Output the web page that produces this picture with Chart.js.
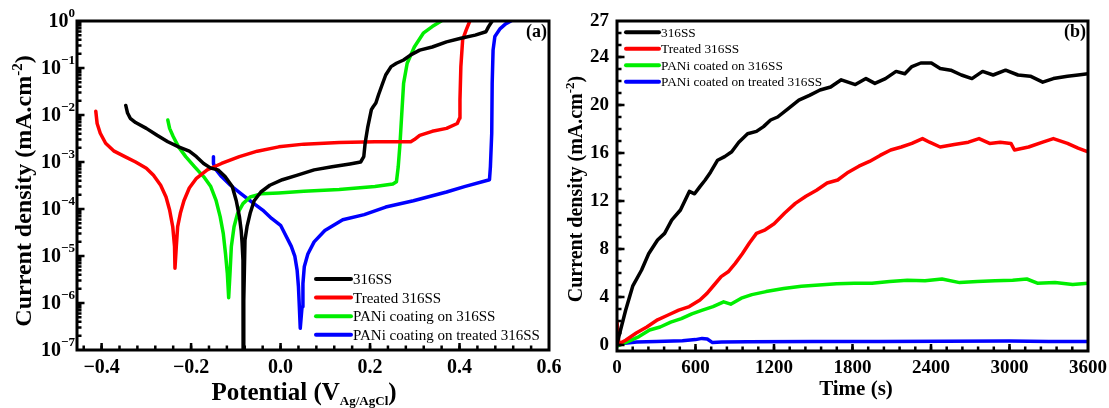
<!DOCTYPE html>
<html>
<head>
<meta charset="utf-8">
<script src="https://cdn.jsdelivr.net/npm/chart.js@4.4.0/dist/chart.umd.min.js"></script>
<style>
  html, body { margin: 0; padding: 0; background: #fff; overflow: hidden; }
  #wrap { position: relative; width: 1109px; height: 408px; }
  canvas { position: absolute; top: 0; }
  #chart-tafel { left: 0; }
  #chart-ca { left: 556px; }
</style>
</head>
<body>
<div id="wrap">
  <canvas id="chart-tafel" width="580" height="408"></canvas>
  <canvas id="chart-ca" width="560" height="408"></canvas>
</div>
<script>
// ---- (a) potentiodynamic polarisation: potential (V) vs current density (mA/cm2) ----
const e316 = [-0.346, -0.342, -0.336, -0.324, -0.300, -0.276, -0.252, -0.228, -0.204, -0.188, -0.172, -0.156, -0.140, -0.124, -0.108, -0.099, -0.092, -0.088, -0.086, -0.084, -0.0835, -0.0825, -0.082, -0.0795, -0.075, -0.068, -0.059, -0.044, -0.024, 0.004, 0.036, 0.075, 0.115, 0.155, 0.179, 0.186, 0.189, 0.195, 0.203, 0.207, 0.213, 0.219, 0.227, 0.235, 0.247, 0.259, 0.275, 0.291, 0.311, 0.339, 0.371, 0.403, 0.435, 0.459, 0.465, 0.473];
const i316 = [1.6e-2, 1.1e-2, 8.5e-3, 6.9e-3, 5.2e-3, 3.7e-3, 2.7e-3, 2.1e-3, 1.7e-3, 1.3e-3, 9.3e-4, 7.4e-4, 6.8e-4, 4.9e-4, 3.0e-4, 1.5e-4, 6.9e-5, 3.5e-5, 1.9e-5, 8.1e-6, 1e-8, 1e-8, 1.1e-6, 2.2e-5, 4.2e-5, 8.1e-5, 1.5e-4, 2.3e-4, 3.2e-4, 4.2e-4, 5.2e-4, 6.8e-4, 7.9e-4, 9.1e-4, 1.0e-3, 1.3e-3, 2.5e-3, 5.6e-3, 1.3e-2, 1.5e-2, 1.8e-2, 2.7e-2, 4.4e-2, 7.1e-2, 0.107, 0.126, 0.148, 0.19, 0.24, 0.28, 0.36, 0.43, 0.50, 0.59, 0.76, 1.0];

const eTreated = [-0.413, -0.410, -0.403, -0.391, -0.372, -0.348, -0.324, -0.300, -0.284, -0.268, -0.256, -0.248, -0.241, -0.237, -0.236, -0.233, -0.230, -0.224, -0.216, -0.204, -0.188, -0.164, -0.132, -0.092, -0.052, -0.004, 0.052, 0.131, 0.211, 0.291, 0.299, 0.311, 0.339, 0.371, 0.395, 0.400, 0.401, 0.403, 0.407, 0.415, 0.423];
const iTreated = [1.2e-2, 6.6e-3, 4.1e-3, 2.5e-3, 1.7e-3, 1.3e-3, 1.0e-3, 7.4e-4, 5.2e-4, 3.2e-4, 1.8e-4, 9.5e-5, 4.2e-5, 1.6e-5, 5.5e-6, 1.6e-5, 4.2e-5, 8.1e-5, 1.5e-4, 2.8e-4, 4.5e-4, 6.8e-4, 9.3e-4, 1.3e-3, 1.7e-3, 2.1e-3, 2.4e-3, 2.6e-3, 2.7e-3, 2.7e-3, 3.0e-3, 3.7e-3, 4.5e-3, 5.2e-3, 6.6e-3, 8.5e-3, 2.1e-2, 0.107, 0.40, 0.65, 1.0];

const ePani = [-0.252, -0.248, -0.240, -0.228, -0.212, -0.192, -0.172, -0.156, -0.144, -0.135, -0.128, -0.123, -0.119, -0.116, -0.113, -0.110, -0.104, -0.096, -0.084, -0.068, -0.044, -0.004, 0.052, 0.131, 0.211, 0.251, 0.259, 0.263, 0.267, 0.271, 0.275, 0.283, 0.299, 0.319, 0.339, 0.359];
const iPani = [7.8e-3, 5.2e-3, 3.5e-3, 2.1e-3, 1.3e-3, 7.9e-4, 4.9e-4, 3.0e-4, 1.5e-4, 6.9e-5, 3.0e-5, 1.1e-5, 4.3e-6, 1.3e-6, 4.3e-6, 1.6e-5, 4.2e-5, 8.1e-5, 1.3e-4, 1.8e-4, 2.1e-4, 2.2e-4, 2.4e-4, 2.6e-4, 3.0e-4, 3.4e-4, 3.8e-4, 7.9e-4, 2.5e-3, 1.1e-2, 4.7e-2, 0.126, 0.28, 0.55, 0.76, 1.0];

const ePaniTr = [-0.150, -0.150, -0.144, -0.132, -0.112, -0.088, -0.064, -0.040, -0.020, 0.000, 0.024, 0.032, 0.037, 0.040, 0.042, 0.044, 0.048, 0.050, 0.053, 0.061, 0.075, 0.099, 0.139, 0.187, 0.235, 0.297, 0.371, 0.411, 0.467, 0.469, 0.472, 0.473, 0.475, 0.479, 0.491, 0.503, 0.515];
const iPaniTr = [1.3e-3, 9.3e-4, 6.8e-4, 4.9e-4, 3.2e-4, 2.1e-4, 1.4e-4, 9.5e-5, 6.3e-5, 4.5e-5, 1.6e-5, 9.8e-6, 5.0e-6, 2.2e-6, 8.3e-7, 2.9e-7, 8.3e-7, 2.6e-6, 5.9e-6, 1.1e-5, 2.0e-5, 3.5e-5, 5.9e-5, 7.6e-5, 1.1e-4, 1.5e-4, 2.3e-4, 3.0e-4, 4.2e-4, 7.9e-4, 4.1e-3, 4.7e-2, 0.24, 0.47, 0.69, 0.87, 1.0];

const tafelLabels = ['316SS', 'Treated 316SS', 'PANi coating on 316SS', 'PANi coating on treated 316SS'];
const potentialTicks = [-0.4, -0.2, 0.0, 0.2, 0.4, 0.6];
const decadeTicks = [0, -1, -2, -3, -4, -5, -6, -7];

// ---- (b) chronoamperometry: time (s) vs current density (mA/cm2) ----
const t316 = [0, 66, 120, 188, 242, 310, 364, 418, 485, 553, 593, 634, 674, 715, 769, 823, 877, 931, 998, 1066, 1120, 1174, 1228, 1309, 1390, 1471, 1552, 1633, 1714, 1822, 1903, 1971, 2052, 2133, 2200, 2254, 2322, 2403, 2470, 2551, 2632, 2713, 2794, 2875, 2970, 3065, 3159, 3254, 3335, 3443, 3524, 3600];
const j316 = [0.1, 2.9, 4.9, 6.25, 7.6, 8.75, 9.3, 10.4, 11.25, 12.8, 12.6, 13.2, 13.75, 14.4, 15.4, 15.7, 16.1, 16.9, 17.6, 17.8, 18.2, 18.75, 19.0, 19.7, 20.4, 20.8, 21.25, 21.5, 22.1, 21.7, 22.2, 21.8, 22.2, 22.8, 22.6, 23.2, 23.5, 23.5, 23.05, 22.9, 22.5, 22.2, 22.8, 22.5, 22.9, 22.5, 22.4, 21.9, 22.2, 22.4, 22.5, 22.6];

const tTreated = [0, 15, 66, 147, 228, 310, 391, 472, 553, 634, 688, 742, 796, 850, 904, 958, 1012, 1066, 1133, 1201, 1282, 1363, 1444, 1525, 1606, 1687, 1768, 1849, 1930, 2011, 2092, 2173, 2254, 2335, 2389, 2470, 2578, 2686, 2767, 2848, 2929, 3011, 3038, 3146, 3254, 3335, 3443, 3524, 3600];
const jTreated = [1.9, 0.1, 0.4, 1.0, 1.5, 2.1, 2.5, 2.9, 3.2, 3.75, 4.3, 5.0, 5.7, 6.1, 6.8, 7.6, 8.5, 9.3, 9.6, 10.1, 11.0, 11.8, 12.4, 12.9, 13.5, 13.75, 14.4, 14.9, 15.3, 15.8, 16.25, 16.5, 16.8, 17.2, 16.9, 16.5, 16.7, 16.9, 17.2, 16.8, 16.9, 16.8, 16.25, 16.5, 16.9, 17.2, 16.8, 16.4, 16.1];

const tPani = [0, 87, 168, 249, 330, 411, 492, 572, 653, 734, 815, 869, 950, 1031, 1139, 1274, 1409, 1544, 1679, 1814, 1949, 2084, 2219, 2354, 2484, 2619, 2754, 2889, 3024, 3132, 3213, 3348, 3483, 3600];
const jPani = [-0.1, 0.3, 0.7, 1.25, 1.5, 1.9, 2.2, 2.6, 2.9, 3.2, 3.6, 3.4, 3.9, 4.2, 4.45, 4.7, 4.9, 5.0, 5.1, 5.15, 5.15, 5.3, 5.4, 5.35, 5.5, 5.2, 5.3, 5.35, 5.4, 5.5, 5.15, 5.2, 5.05, 5.15];

const tPaniTr = [0, 60, 150, 300, 500, 600, 650, 690, 730, 800, 1000, 1500, 2000, 2500, 3000, 3300, 3600];
const jPaniTr = [0.05, 0.15, 0.25, 0.3, 0.35, 0.45, 0.55, 0.5, 0.2, 0.25, 0.28, 0.3, 0.3, 0.32, 0.33, 0.3, 0.3];

const caLabels = ['316SS', 'Treated 316SS', 'PANi coated on 316SS', 'PANi coated on treated 316SS'];
const timeTicks = [0, 600, 1200, 1800, 2400, 3000, 3600];
const currentTicks = [0, 4, 8, 12, 16, 20, 24, 27];

const lineColors = ['#000000', '#ff0000', '#00ee00', '#0000ff'];
const serif = '"Liberation Serif", "Times New Roman", serif';

Chart.defaults.font.family = serif;
Chart.defaults.color = '#000';

function toPoints(xs, ys) {
    return xs.map((x, i) => ({ x: x, y: ys[i] }));
}

function makeDatasets(pairs, labels) {
    return pairs.map((p, i) => ({
        label: labels[i],
        data: toPoints(p[0], p[1]),
        borderColor: lineColors[i],
        backgroundColor: lineColors[i],
        borderWidth: 3.5,
        pointRadius: 0,
        tension: 0,
        borderJoinStyle: 'round',
        borderCapStyle: 'round',
    }));
}

function range(from, to, step) {
    const out = [];
    for (let v = from; v <= to + step / 1000; v += step) out.push(Math.round(v * 1e6) / 1e6);
    return out;
}

// text made of runs with their own font and baseline shift (sub/superscripts)
function richWidth(ctx, parts) {
    let w = 0;
    parts.forEach(p => { ctx.font = p.font; w += ctx.measureText(p.text).width; });
    return w;
}
function drawRich(ctx, parts, cx, baseY) {
    let x = cx - richWidth(ctx, parts) / 2;
    ctx.textAlign = 'left';
    ctx.textBaseline = 'alphabetic';
    parts.forEach(p => {
        ctx.font = p.font;
        ctx.fillText(p.text, x, baseY + (p.dy || 0));
        x += ctx.measureText(p.text).width;
    });
}

// frame, inward ticks, legend, panel tag and axis titles
function decorPlugin(cfg) {
    return {
        id: 'decor',
        afterDraw(chart) {
            const { ctx, chartArea: a } = chart;
            const xs = chart.scales.x, ys = chart.scales.y;
            ctx.save();
            ctx.strokeStyle = '#000';
            ctx.fillStyle = '#000';

            const marks = (vals, len, onX) => {
                ctx.beginPath();
                vals.forEach(v => {
                    if (onX) {
                        const p = xs.getPixelForValue(v);
                        if (p < a.left + 1 || p > a.right - 1) return;
                        ctx.moveTo(p, a.bottom); ctx.lineTo(p, a.bottom - len);
                    } else {
                        const p = ys.getPixelForValue(v);
                        if (p < a.top + 1 || p > a.bottom - 1) return;
                        ctx.moveTo(a.left, p); ctx.lineTo(a.left + len, p);
                    }
                });
                ctx.stroke();
            };
            ctx.lineWidth = 2.5;
            marks(cfg.xMinor, 4.5, true);
            marks(cfg.xMajor, 7, true);
            marks(cfg.yMinor, 4.5, false);
            marks(cfg.yMajor, 7.5, false);

            ctx.lineWidth = 3;
            ctx.strokeRect(a.left, a.top, a.right - a.left, a.bottom - a.top);

            // powers of ten on the log axis
            if (cfg.powers) {
                cfg.powers.forEach(e => {
                    const p = ys.getPixelForValue(Math.pow(10, e));
                    const sup = e === 0 ? '0' : '\u2212' + (-e);
                    ctx.textAlign = 'right';
                    ctx.textBaseline = 'middle';
                    ctx.font = 'bold 13px ' + serif;
                    const sw = ctx.measureText(sup).width;
                    ctx.fillText(sup, a.left - 2, p - 7);
                    ctx.font = 'bold 20px ' + serif;
                    ctx.fillText('10', a.left - 2 - sw, p + 1);
                });
            }

            // legend
            const lg = cfg.legend;
            chart.data.datasets.forEach((ds, i) => {
                const y = lg.y0 + i * lg.dy;
                ctx.strokeStyle = ds.borderColor;
                ctx.lineWidth = 4;
                ctx.lineCap = 'round';
                ctx.beginPath();
                ctx.moveTo(lg.x0, y); ctx.lineTo(lg.x1, y);
                ctx.stroke();
                ctx.font = lg.font;
                ctx.textAlign = 'left';
                ctx.textBaseline = 'middle';
                ctx.fillText(ds.label, lg.tx, y + 1);
            });

            // panel tag
            ctx.font = 'bold 18px ' + serif;
            ctx.textAlign = 'right';
            ctx.textBaseline = 'middle';
            ctx.fillText(cfg.tag, a.right - 2, a.top + 11);

            drawRich(ctx, cfg.xTitle.parts, cfg.xTitle.x, cfg.xTitle.y);

            ctx.translate(cfg.yTitle.x, cfg.yTitle.y);
            ctx.rotate(-Math.PI / 2);
            drawRich(ctx, cfg.yTitle.parts, 0, 0);
            ctx.restore();
        },
    };
}

const tickFont = size => ({ family: serif, size: size, weight: 'bold' });

// Tafel plot
const logMinor = [];
decadeTicks.slice(0, -1).forEach(e => {
    for (let m = 2; m <= 9; m++) logMinor.push(m * Math.pow(10, e - 1));
});

new Chart(document.getElementById('chart-tafel'), {
    type: 'line',
    data: {
        datasets: makeDatasets([[e316, i316], [eTreated, iTreated], [ePani, iPani], [ePaniTr, iPaniTr]], tafelLabels),
    },
    options: {
        responsive: false,
        animation: false,
        events: [],
        layout: { padding: { top: 21, right: 31, left: 0, bottom: 0 } },
        plugins: { legend: { display: false }, tooltip: { enabled: false } },
        scales: {
            x: {
                type: 'linear',
                min: -0.455,
                max: 0.6,
                grid: { display: false, drawTicks: false },
                border: { display: false },
                afterBuildTicks: s => { s.ticks = potentialTicks.map(v => ({ value: v })); },
                afterFit: s => { s.height = 58; },
                ticks: {
                    autoSkip: false,
                    maxRotation: 0,
                    padding: 6,
                    font: tickFont(20),
                    callback: v => (v < 0 ? '\u2212' : '') + Math.abs(v).toFixed(1),
                },
            },
            y: {
                type: 'logarithmic',
                min: 1e-7,
                max: 1,
                grid: { display: false, drawTicks: false },
                border: { display: false },
                ticks: { display: false },
                afterFit: s => { s.width = 77; },
            },
        },
    },
    plugins: [decorPlugin({
        xMajor: potentialTicks,
        xMinor: range(-0.44, 0.6, 0.04),
        yMajor: decadeTicks.map(e => Math.pow(10, e)),
        yMinor: logMinor,
        powers: decadeTicks,
        legend: { x0: 316, x1: 351, tx: 353, y0: 279, dy: 18.6, font: '15px ' + serif },
        tag: '(a)',
        xTitle: {
            x: 304, y: 400,
            parts: [
                { text: 'Potential (V', font: 'bold 25px ' + serif },
                { text: 'Ag/AgCl', font: 'bold 13px ' + serif, dy: 5 },
                { text: ')', font: 'bold 25px ' + serif },
            ],
        },
        yTitle: {
            x: 31, y: 191,
            parts: [
                { text: 'Current density (mA.cm', font: 'bold 24px ' + serif },
                { text: '-2', font: 'bold 15px ' + serif, dy: -9 },
                { text: ')', font: 'bold 24px ' + serif },
            ],
        },
    })],
});

// current transients
new Chart(document.getElementById('chart-ca'), {
    type: 'line',
    data: {
        datasets: makeDatasets([[t316, j316], [tTreated, jTreated], [tPani, jPani], [tPaniTr, jPaniTr]], caLabels),
    },
    options: {
        responsive: false,
        animation: false,
        events: [],
        layout: { padding: { top: 21, right: 28, left: 0, bottom: 0 } },
        plugins: { legend: { display: false }, tooltip: { enabled: false } },
        scales: {
            x: {
                type: 'linear',
                min: 0,
                max: 3600,
                grid: { display: false, drawTicks: false },
                border: { display: false },
                afterBuildTicks: s => { s.ticks = timeTicks.map(v => ({ value: v })); },
                afterFit: s => { s.height = 57; },
                ticks: { autoSkip: false, maxRotation: 0, padding: 6, font: tickFont(19), callback: v => String(v) },
            },
            y: {
                type: 'linear',
                min: -0.5,
                max: 27,
                grid: { display: false, drawTicks: false },
                border: { display: false },
                afterBuildTicks: s => { s.ticks = currentTicks.map(v => ({ value: v })); },
                afterFit: s => { s.width = 61; },
                ticks: { autoSkip: false, padding: 8, font: tickFont(19), callback: v => String(v) },
            },
        },
    },
    plugins: [decorPlugin({
        xMajor: timeTicks,
        xMinor: range(0, 3600, 120),
        yMajor: [0, 4, 8, 12, 16, 20, 24],
        yMinor: range(0, 27, 1),
        legend: { x0: 70, x1: 103, tx: 105, y0: 32.3, dy: 16.5, font: '13.3px ' + serif },
        tag: '(b)',
        xTitle: {
            x: 300, y: 395,
            parts: [{ text: 'Time (s)', font: 'bold 21px ' + serif }],
        },
        yTitle: {
            x: 25.5, y: 189,
            parts: [
                { text: 'Current density (mA.cm', font: 'bold 20px ' + serif },
                { text: '-2', font: 'bold 13px ' + serif, dy: -8 },
                { text: ')', font: 'bold 20px ' + serif },
            ],
        },
    })],
});
</script>
</body>
</html>
